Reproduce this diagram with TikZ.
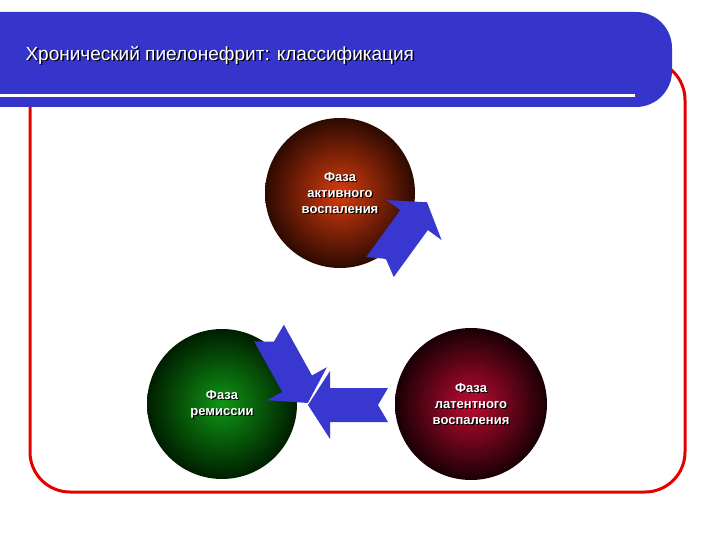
\documentclass[tikz,border=0pt]{standalone}
\usepackage{fontspec}
\setmainfont{Liberation Sans}
\begin{document}
\begin{tikzpicture}[x=1pt,y=-1pt,
  lbl/.style={text=white,font=\bfseries\fontsize{13}{16}\selectfont,align=center},
  shd/.style={text=black,font=\bfseries\fontsize{13}{16}\selectfont,align=center},
  arr/.style={fill=arrowblue,draw=none}]
\definecolor{barblue}{HTML}{3535CC}
\definecolor{arrowblue}{HTML}{3838D0}
\useasboundingbox (0,0) rectangle (720,540);
% red frame
\draw[red!90!black,line width=3pt,rounded corners=40pt] (30,60) rectangle (685,492);
% title bar
\fill[barblue,rounded corners=36pt] (-40,12) rectangle (672,107);
\fill[barblue] (-5,12) rectangle (40,107);
\draw[white,line width=3pt] (0,96) -- (635,96);
\node[anchor=west,text=black,font=\fontsize{19}{22}\selectfont] (tsh) at (23.5,56.5) {Хронический пиелонефрит: классификация};
\node[anchor=west,text=white,font=\fontsize{19}{22}\selectfont] (title) at (22,55) {Хронический пиелонефрит: классификация};
% circles
\shade[inner color={rgb,255:red,215;green,60;blue,15},outer color={rgb,255:red,45;green,10;blue,0}] (340,193) circle (75);
\shade[inner color={rgb,255:red,15;green,150;blue,20},outer color={rgb,255:red,0;green,30;blue,0}] (222,404) circle (75);
\shade[inner color={rgb,255:red,190;green,10;blue,50},outer color={rgb,255:red,25;green,0;blue,5}] (471,404) circle (76);
\coordinate (ca) at (340,193);
\coordinate (cr) at (222,404);
\coordinate (cl) at (471,404);
\node[shd] at (341.2,194.2) {Фаза\\активного\\воспаления};
\node[lbl] (na) at (340,193) {Фаза\\активного\\воспаления};
\node[shd] at (223.2,405.2) {Фаза\\ремиссии};
\node[lbl] (nr) at (222,404) {Фаза\\ремиссии};
\node[shd] at (472.2,405.2) {Фаза\\латентного\\воспаления};
\node[lbl] (nl) at (471,404) {Фаза\\латентного\\воспаления};
% arrows
\foreach \px/\py/\ang in {388/405/180, 269/333/-61, 380/267/54}{
  \fill[arr,shift={(\px,\py)},rotate=\ang]
    (0,-17) -- (58,-17) -- (58,-34) -- (80,0) -- (58,34) -- (58,17) -- (0,17) -- (10,0) -- cycle;
}
\end{tikzpicture}
\end{document}
